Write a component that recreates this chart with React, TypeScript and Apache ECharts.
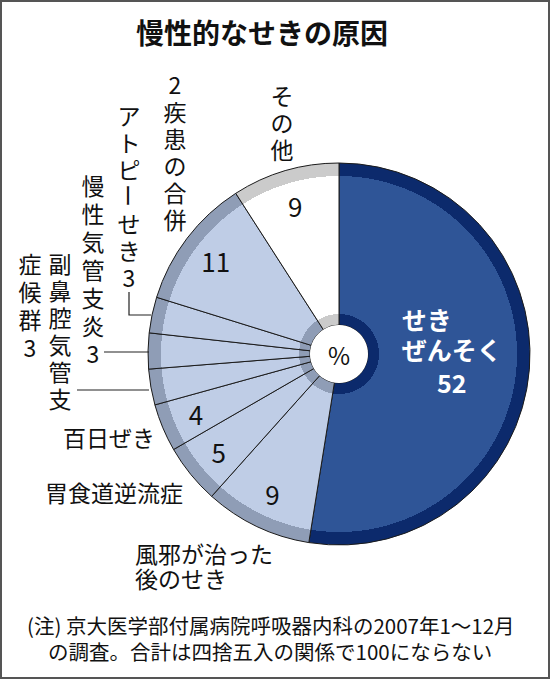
import { useEffect, useRef } from 'react';
import * as echarts from 'echarts';

// 慢性的なせきの原因（%）
const categories = [
  'せきぜんそく',
  '風邪が治った後のせき',
  '胃食道逆流症',
  '百日ぜき',
  '副鼻腔気管支症候群',
  '慢性気管支炎',
  'アトピーせき',
  '2疾患の合併',
  'その他',
];
const values = [52, 9, 5, 4, 3, 3, 3, 11, 9];
// 円の中に数値を書く項目
const insideLabelled = ['風邪が治った後のせき', '胃食道逆流症', '百日ぜき', '2疾患の合併', 'その他'];

const FONT = "'Noto Sans CJK JP', sans-serif";
const CX = 339;
const CY = 354;
const R_HOLE = 29;
const R_INNER_BAND = 40;
const R_OUTER_BAND = 178;
const R = 191;

// [本体, 縁取り]
const NAVY = ['#2f5597', '#0c2a6c'];
const LIGHT = ['#bfcde6', '#8f9db6'];
const OTHER = ['#ffffff', '#cbcbcb'];

const colorsFor = (name: string) =>
  name === 'せきぜんそく' ? NAVY : name === 'その他' ? OTHER : LIGHT;

// 内側・外側の縁取りをラジアルグラデーションの段差で描く
const ringFill = ([main, band]: string[]) => {
  const a = R_INNER_BAND / R;
  const b = R_OUTER_BAND / R;
  return new echarts.graphic.RadialGradient(
    CX,
    CY,
    R,
    [
      { offset: 0, color: band },
      { offset: a, color: band },
      { offset: a, color: main },
      { offset: b, color: main },
      { offset: b, color: band },
      { offset: 1, color: band },
    ],
    true
  );
};

const txt = (
  text: string,
  x: number,
  y: number,
  opts: { size?: number; align?: string; vAlign?: string; lineHeight?: number; weight?: string } = {}
) => {
  const align = opts.align ?? 'left';
  const vAlign = opts.vAlign ?? 'middle';
  return {
    type: 'text',
    z: 20,
    style: {
      text,
      x,
      y,
      fill: '#111',
      fontSize: opts.size ?? 23,
      fontFamily: FONT,
      fontWeight: opts.weight ?? 'normal',
      lineHeight: opts.lineHeight,
      align,
      textAlign: align,
      verticalAlign: vAlign,
      textVerticalAlign: vAlign,
    },
  };
};

// 縦書きラベル（1文字ずつ改行）
const vtxt = (text: string, x: number, top: number, lineHeight = 27) =>
  txt(text.split('').join('\n'), x, top, { align: 'center', vAlign: 'top', lineHeight });

// 縦書きの長音記号（90度回転）
const vbar = (x: number, cy: number) => ({
  type: 'text',
  z: 20,
  x,
  y: cy,
  rotation: -Math.PI / 2,
  style: {
    text: 'ー',
    x: 0,
    y: 0,
    fill: '#111',
    fontSize: 23,
    fontFamily: FONT,
    align: 'center',
    textAlign: 'center',
    verticalAlign: 'middle',
    textVerticalAlign: 'middle',
  },
});

const App: React.FC = () => {
  const chartRef = useRef<HTMLDivElement>(null);

  useEffect(() => {
    if (!chartRef.current) return;
    const chart = echarts.init(chartRef.current, undefined, { renderer: 'svg' });

    const option: echarts.EChartsOption = {
      animation: false,
      backgroundColor: '#ffffff',
      series: [
        {
          type: 'pie',
          center: [CX, CY],
          radius: [R_HOLE, R],
          startAngle: 90,
          clockwise: true,
          silent: true,
          avoidLabelOverlap: false,
          emphasis: { disabled: true },
          itemStyle: { borderColor: '#1b1b1b', borderWidth: 1 },
          labelLine: { show: false },
          labelLayout: { dy: -11 },
          label: {
            show: false,
            position: 'inside',
            formatter: (p: any) =>
              `{a|${p.name.slice(0, 2)}}\n{a|${p.name.slice(2)}}\n{b|${p.value}}`,
            rich: {
              a: { color: '#fff', fontSize: 25, fontWeight: 'bold', fontFamily: FONT, lineHeight: 30, align: 'left' },
              b: { color: '#fff', fontSize: 25, fontWeight: 'bold', fontFamily: FONT, lineHeight: 36, align: 'center' },
            },
          },
          data: categories.map((name, i) => ({
            name,
            value: values[i],
            itemStyle: { color: ringFill(colorsFor(name)) as any },
            label: { show: name === 'せきぜんそく' },
          })),
        },
        {
          // 数値ラベル用（透明）
          type: 'pie',
          center: [CX, CY],
          radius: [113, R],
          startAngle: 90,
          clockwise: true,
          silent: true,
          avoidLabelOverlap: false,
          emphasis: { disabled: true },
          itemStyle: { color: 'rgba(0,0,0,0)', borderWidth: 0 },
          labelLine: { show: false },
          label: {
            position: 'inside',
            formatter: '{c}',
            color: '#111',
            fontSize: 26,
            fontFamily: FONT,
          },
          data: categories.map((name, i) => ({
            name,
            value: values[i],
            label: { show: insideLabelled.includes(name) },
          })),
        },
      ],
      graphic: [
        {
          type: 'rect',
          z: 30,
          shape: { x: 1, y: 1, width: 548, height: 677 },
          style: { fill: 'none', stroke: '#555', lineWidth: 2 },
        },
        {
          type: 'circle',
          z: 15,
          shape: { cx: CX, cy: CY, r: R_HOLE },
          style: { fill: '#fff' },
        },
        txt('%', CX, CY, { size: 24, align: 'center' }),
        txt('慢性的なせきの原因', 262, 32, { size: 28, align: 'center', weight: 'bold' }),
        vtxt('その他', 282, 81),
        vtxt('2疾患の合併', 175, 70),
        vtxt('アトピ', 129, 101),
        vbar(129, 101 + 3 * 27 + 13.5),
        vtxt('せき3', 129, 101 + 4 * 27),
        vtxt('慢性気管支炎3', 93, 171, 28),
        vtxt('副鼻腔気管支', 60, 249),
        vtxt('症候群3', 30, 249, 28),
        {
          type: 'polyline',
          z: 20,
          shape: { points: [[129, 292], [129, 315], [151, 315]] },
          style: { fill: 'none', stroke: '#222', lineWidth: 1.2 },
        },
        {
          type: 'line',
          z: 20,
          shape: { x1: 104, y1: 352, x2: 149, y2: 352 },
          style: { stroke: '#222', lineWidth: 1.2 },
        },
        {
          type: 'line',
          z: 20,
          shape: { x1: 77, y1: 390, x2: 149, y2: 390 },
          style: { stroke: '#222', lineWidth: 1.2 },
        },
        txt('百日ぜき', 63, 437),
        txt('胃食道逆流症', 45, 492),
        txt('風邪が治った\n後のせき', 135, 540, { vAlign: 'top', lineHeight: 25 }),
        txt('(注) 京大医学部付属病院呼吸器内科の2007年1～12月', 27, 625, { size: 20.5 }),
        txt('の調査。合計は四捨五入の関係で100にならない', 48, 651, { size: 20.5 }),
      ] as any,
    };

    chart.setOption(option);
    return () => {
      chart.dispose();
    };
  }, []);

  return (
    <div
      ref={chartRef}
      style={{ position: 'fixed', left: 0, top: 0, width: '551px', height: '680px', background: '#fff' }}
    />
  );
};

export default App;
